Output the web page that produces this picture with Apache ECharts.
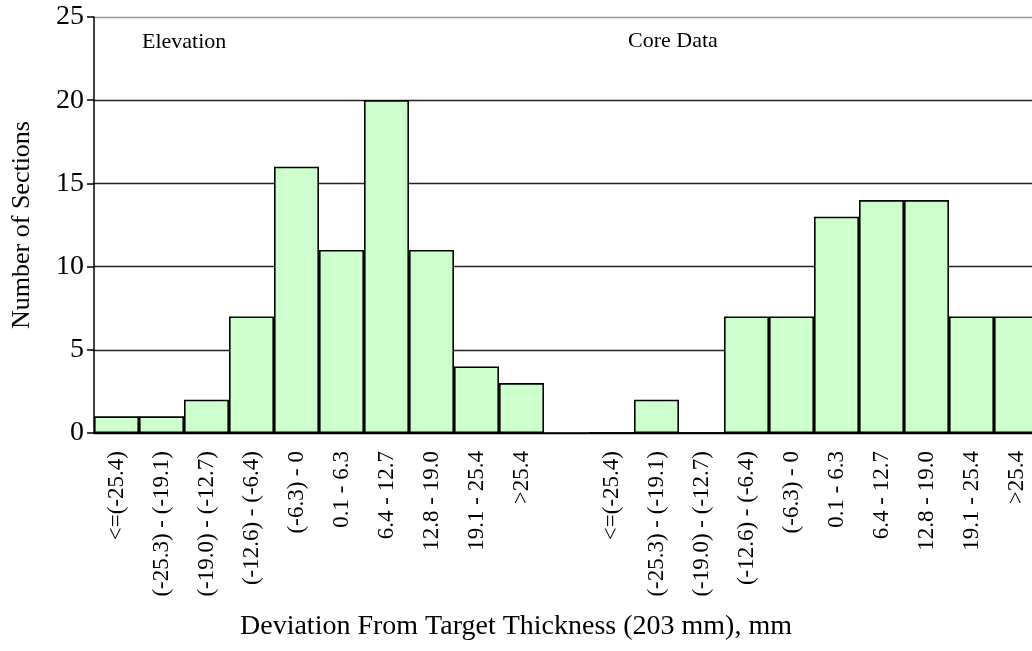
<!DOCTYPE html>
<html>
<head>
<meta charset="utf-8">
<script src="https://cdn.jsdelivr.net/npm/echarts@6/dist/echarts.min.js"></script>
<style>
html,body{margin:0;padding:0;background:#fff;}
#chart{width:1032px;height:651px;}
</style>
</head>
<body>
<div id="chart"></div>
<script>
const binLabels = ['<=(-25.4)', '(-25.3) - (-19.1)', '(-19.0) - (-12.7)', '(-12.6) - (-6.4)', '(-6.3) - 0', '0.1 - 6.3', '6.4 - 12.7', '12.8 - 19.0', '19.1 - 25.4', '>25.4'];
const elevationCounts = [1, 1, 2, 7, 16, 11, 20, 11, 4, 3];
const coreCounts = [0, 2, 0, 7, 7, 13, 14, 14, 7, 7];
const yTicks = [0, 5, 10, 15, 20, 25];
const groupNames = ['Elevation', 'Core Data'];
const xTitle = 'Deviation From Target Thickness (203 mm), mm';
const yTitle = 'Number of Sections';

const categories = binLabels.concat([''], binLabels);
const values = elevationCounts.concat(['-'], coreCounts);
const FONT = '"Liberation Serif", "Times New Roman", serif';

const chart = echarts.init(document.getElementById('chart'), null, {renderer: 'canvas'});
chart.setOption({
  backgroundColor: '#ffffff',
  animation: false,
  grid: {left: 94, top: 17, right: -7, bottom: 218, containLabel: false, outerBoundsMode: 'none'},
  xAxis: {
    type: 'category',
    data: categories,
    axisLine: {show: true, lineStyle: {color: '#000', width: 1.5}},
    axisTick: {show: false},
    axisLabel: {interval: 0, rotate: 90, margin: 18, color: '#000', fontFamily: FONT, fontSize: 23},
    splitLine: {show: false}
  },
  yAxis: {
    type: 'value',
    min: yTicks[0],
    max: yTicks[yTicks.length - 1],
    interval: yTicks[1] - yTicks[0],
    name: yTitle,
    nameLocation: 'middle',
    nameGap: 59,
    nameTextStyle: {color: '#000', fontFamily: FONT, fontSize: 26},
    axisLine: {show: true, lineStyle: {color: '#000', width: 1.5}},
    axisTick: {show: true, inside: false, length: 7, lineStyle: {color: '#000', width: 1.5}},
    axisLabel: {margin: 10, color: '#000', fontFamily: FONT, fontSize: 28},
    splitLine: {show: true, lineStyle: {color: ['#000', '#222', '#222', '#222', '#222', '#999'], width: 1.3}}
  },
  series: [{
    type: 'bar',
    data: values,
    barCategoryGap: '0%',
    itemStyle: {color: '#CCFFCC', borderColor: '#000', borderWidth: 1.6}
  }],
  graphic: [
    {type: 'text', left: 142, top: 31, style: {text: groupNames[0], fill: '#000', font: '22px ' + FONT}},
    {type: 'text', left: 628, top: 30, style: {text: groupNames[1], fill: '#000', font: '22px ' + FONT}},
    {type: 'text', x: 516, y: 627, style: {text: xTitle, fill: '#000', font: '28px ' + FONT, align: 'center', verticalAlign: 'middle'}}
  ]
});
</script>
</body>
</html>
